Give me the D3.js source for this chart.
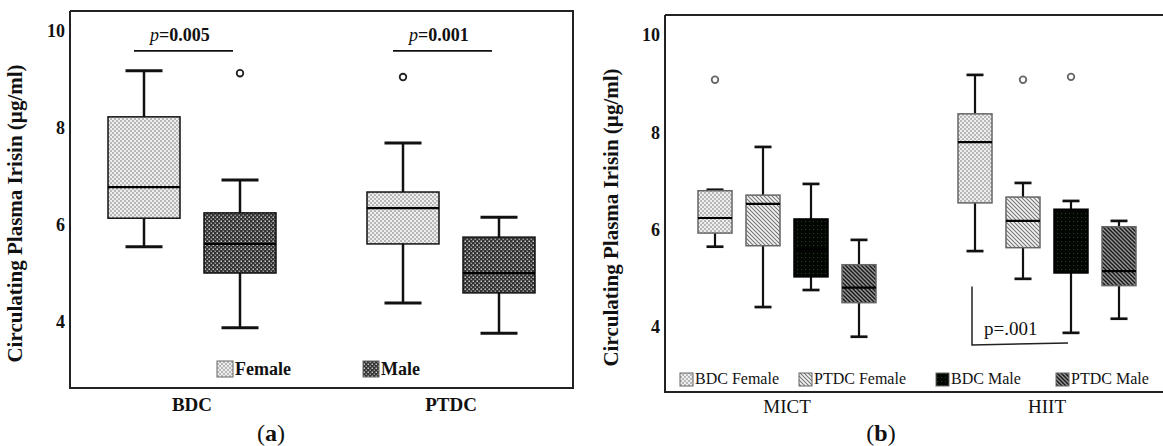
<!DOCTYPE html>
<html lang="en">
<head>
    <meta charset="UTF-8">
    <title>Circulating Plasma Irisin</title>
    <script src="https://d3js.org/d3.v7.min.js"></script>
    <style>
        body { margin: 0; background: #fff; }
        svg text { font-family: "Liberation Serif", "DejaVu Serif", serif; fill: #111; }
    </style>
</head>
<body>
    <svg width="1163" height="446"></svg>
    <script>
        // ---- data ----
        // box stats are [min, q1, median, q3, max] per group
        const groupsA = ["BDC", "PTDC"];
        const seriesA = ["Female", "Male"];
        const femaleA = [[5.55, 6.14, 6.78, 8.23, 9.18], [4.39, 5.61, 6.35, 6.68, 7.69]];
        const maleA   = [[3.88, 5.01, 5.61, 6.25, 6.93], [3.77, 4.60, 5.01, 5.75, 6.16]];
        const outliersA = [
            {group: "BDC", series: "Male", value: 9.13},
            {group: "PTDC", series: "Female", value: 9.05}
        ];
        const pLinesA = [
            {group: "BDC", label: "0.005", value: 9.59},
            {group: "PTDC", label: "0.001", value: 9.59}
        ];

        const groupsB = ["MICT", "HIIT"];
        const seriesB = ["BDC Female", "PTDC Female", "BDC Male", "PTDC Male"];
        const bdcFemaleB  = [[5.65, 5.93, 6.24, 6.80, 6.82], [5.56, 6.55, 7.80, 8.38, 9.18]];
        const ptdcFemaleB = [[4.41, 5.67, 6.53, 6.71, 7.70], [4.99, 5.63, 6.18, 6.67, 6.96]];
        const bdcMaleB    = [[4.76, 5.03, 5.60, 6.22, 6.94], [3.88, 5.11, 5.80, 6.42, 6.59]];
        const ptdcMaleB   = [[3.80, 4.50, 4.81, 5.28, 5.79], [4.17, 4.85, 5.15, 6.06, 6.18]];
        const outliersB = [
            {group: "MICT", series: "BDC Female", value: 9.08},
            {group: "HIIT", series: "PTDC Female", value: 9.08},
            {group: "HIIT", series: "BDC Male", value: 9.14}
        ];
        // bracket: vertical drop then line across to BDC Male
        const bracketB = {group: "HIIT", from: "BDC Female", to: "BDC Male", top: 4.83, bottom: 3.63, label: "p=.001"};

        const yTicks = [4, 6, 8, 10];
        const yTitle = "Circulating Plasma Irisin (\u00b5g/ml)";

        const svg = d3.select("svg");

        // ---- fill patterns ----
        const defs = svg.append("defs");

        const pFem = defs.append("pattern").attr("id", "femDots")
            .attr("width", 4).attr("height", 4).attr("patternUnits", "userSpaceOnUse");
        pFem.append("rect").attr("width", 4).attr("height", 4).attr("fill", "#eeeeee");
        pFem.append("rect").attr("width", 2).attr("height", 2).attr("fill", "#b8b8b8");
        pFem.append("rect").attr("x", 2).attr("y", 2).attr("width", 2).attr("height", 2).attr("fill", "#b8b8b8");

        const pMale = defs.append("pattern").attr("id", "maleCheck")
            .attr("width", 4).attr("height", 4).attr("patternUnits", "userSpaceOnUse");
        pMale.append("rect").attr("width", 4).attr("height", 4).attr("fill", "#333");
        pMale.append("rect").attr("x", 0.5).attr("y", 0.5).attr("width", 1.5).attr("height", 1.5).attr("fill", "#c8c8c8");
        pMale.append("rect").attr("x", 2.5).attr("y", 2.5).attr("width", 1.5).attr("height", 1.5).attr("fill", "#999");

        const pBlack = defs.append("pattern").attr("id", "blackDots")
            .attr("width", 4).attr("height", 4).attr("patternUnits", "userSpaceOnUse");
        pBlack.append("rect").attr("width", 4).attr("height", 4).attr("fill", "#030603");
        pBlack.append("rect").attr("x", 1).attr("y", 1).attr("width", 1).attr("height", 1).attr("fill", "#1c4a1c");

        function hatch(id, bg, fg, w) {
            const p = defs.append("pattern").attr("id", id)
                .attr("width", 4).attr("height", 4).attr("patternUnits", "userSpaceOnUse");
            p.append("rect").attr("width", 4).attr("height", 4).attr("fill", bg);
            p.append("path").attr("d", "M-1,-1 L5,5 M-1,3 L1,5 M3,-1 L5,1")
                .attr("stroke", fg).attr("stroke-width", w);
        }
        hatch("hatchLight", "#f4f4f4", "#777", 1.1);
        hatch("hatchDark", "#9a9a9a", "#1a1a1a", 1.5);

        const fillsA = {"Female": "url(#femDots)", "Male": "url(#maleCheck)"};
        const fillsB = {
            "BDC Female": "url(#femDots)", "PTDC Female": "url(#hatchLight)",
            "BDC Male": "url(#blackDots)", "PTDC Male": "url(#hatchDark)"
        };

        // ---- shared drawing ----
        function drawPanel(cfg) {
            const g = svg.append("g");
            const x = d3.scaleBand().domain(cfg.groups).range(cfg.xRange);
            const off = d3.scalePoint().domain(cfg.series).range(cfg.offRange);
            const y = d3.scaleLinear().domain([10, 4]).range(cfg.yRange);
            const cx = (grp, s) => x(grp) + x.bandwidth() / 2 + off(s);

            // frame
            g.append("path")
                .attr("d", `M${cfg.frame[0]},${cfg.frame[1]} H${cfg.frame[2]} ${cfg.closeRight ? "V" + cfg.frame[3] : "M" + cfg.frame[2] + "," + cfg.frame[3]} H${cfg.frame[0]} V${cfg.frame[1]}`)
                .attr("fill", "none").attr("stroke", "#222").attr("stroke-width", 2);

            // y axis labels
            const ax = g.append("g").attr("transform", `translate(${cfg.frame[0]},0)`)
                .call(d3.axisLeft(y).tickValues(yTicks).tickFormat(d3.format("d"))
                    .tickSize(0).tickPadding(cfg.tickPad));
            ax.attr("font-family", null).attr("font-size", null);
            ax.select(".domain").remove();
            ax.selectAll("text")
                .style("font-size", "18px").style("font-weight", "bold").attr("fill", "#111");

            g.append("text")
                .attr("transform", `translate(${cfg.titleX},${(cfg.frame[1] + cfg.frame[3]) / 2 + 14}) rotate(-90)`)
                .attr("text-anchor", "middle").style("font-size", "21px").style("font-weight", "bold")
                .text(yTitle);

            // group labels
            g.selectAll(".grp").data(cfg.groups).enter().append("text")
                .attr("x", d => x(d) + x.bandwidth() / 2).attr("y", cfg.groupY)
                .attr("text-anchor", "middle").style("font-size", "19px")
                .style("font-weight", cfg.groupBold ? "bold" : "normal")
                .text(d => d);

            // boxes
            const rows = [];
            cfg.series.forEach((s, si) => cfg.stats[si].forEach((st, gi) => {
                rows.push({group: cfg.groups[gi], series: s, st: st});
            }));
            const hw = cfg.boxW / 2, cw = cfg.capW / 2;
            const b = g.selectAll(".box").data(rows).enter().append("g");
            b.append("line")
                .attr("x1", d => cx(d.group, d.series)).attr("x2", d => cx(d.group, d.series))
                .attr("y1", d => y(d.st[0])).attr("y2", d => y(d.st[4]))
                .attr("stroke", "#111").attr("stroke-width", cfg.whiskW);
            b.selectAll(".cap").data(d => [d, d].map((r, i) => ({r: r, v: r.st[i * 4]}))).enter().append("line")
                .attr("x1", d => cx(d.r.group, d.r.series) - cw).attr("x2", d => cx(d.r.group, d.r.series) + cw)
                .attr("y1", d => y(d.v)).attr("y2", d => y(d.v))
                .attr("stroke", "#111").attr("stroke-width", cfg.whiskW + 0.5);
            b.append("rect")
                .attr("x", d => cx(d.group, d.series) - hw).attr("width", cfg.boxW)
                .attr("y", d => y(d.st[3])).attr("height", d => y(d.st[1]) - y(d.st[3]))
                .attr("fill", d => cfg.fills[d.series])
                .attr("stroke", d => cfg.fills[d.series] === "url(#blackDots)" ? "#000" : cfg.boxStroke)
                .attr("stroke-width", 1.5);
            b.append("line")
                .attr("x1", d => cx(d.group, d.series) - hw).attr("x2", d => cx(d.group, d.series) + hw)
                .attr("y1", d => y(d.st[2])).attr("y2", d => y(d.st[2]))
                .attr("stroke", "#000").attr("stroke-width", 2.2);

            // outliers
            g.selectAll(".out").data(cfg.outliers).enter().append("circle")
                .attr("cx", d => cx(d.group, d.series)).attr("cy", d => y(d.value)).attr("r", 3.3)
                .attr("fill", "#fff").attr("stroke", cfg.outStroke).attr("stroke-width", 1.8);

            // legend
            const lg = g.selectAll(".leg").data(cfg.series).enter().append("g")
                .attr("transform", (d, i) => `translate(${cfg.legendX[i]},${cfg.legendY})`);
            lg.append("rect").attr("width", cfg.swatch).attr("height", cfg.swatch)
                .attr("y", -cfg.swatch + 2)
                .attr("fill", d => cfg.fills[d]).attr("stroke", "#666").attr("stroke-width", 1);
            lg.append("text").attr("x", cfg.swatch + 2).attr("y", 0)
                .style("font-size", cfg.legendSize).style("font-weight", cfg.legendBold ? "bold" : "normal")
                .text(d => d);

            return {g, x, y, cx};
        }

        // ---- panel (a) ----
        const A = drawPanel({
            groups: groupsA, series: seriesA, stats: [femaleA, maleA], fills: fillsA,
            outliers: outliersA,
            xRange: [62.5, 580.5], offRange: [-48, 48], yRange: [31, 322],
            frame: [70, 11, 573, 388], closeRight: true, tickPad: 5, titleX: 22,
            groupY: 411, groupBold: true,
            boxW: 72, capW: 37, whiskW: 2.5, boxStroke: "#111", outStroke: "#222",
            legendX: [217, 363], legendY: 375, swatch: 16, legendSize: "18px", legendBold: true
        });

        A.g.selectAll(".pline").data(pLinesA).enter().append("line")
            .attr("x1", d => A.cx(d.group, seriesA[0]) - 10).attr("x2", d => A.cx(d.group, seriesA[1]) - 7)
            .attr("y1", d => A.y(d.value)).attr("y2", d => A.y(d.value))
            .attr("stroke", "#111").attr("stroke-width", 1.8);
        const pt = A.g.selectAll(".ptxt").data(pLinesA).enter().append("text")
            .attr("x", d => (A.cx(d.group, seriesA[0]) + A.cx(d.group, seriesA[1])) / 2 - 12)
            .attr("y", d => A.y(d.value) - 10)
            .attr("text-anchor", "middle").style("font-size", "18px").style("font-weight", "bold");
        pt.append("tspan").style("font-style", "italic").style("font-weight", "normal").text("p");
        pt.append("tspan").text(d => "=" + d.label);

        // ---- panel (b) ----
        const B = drawPanel({
            groups: groupsB, series: seriesB, stats: [bdcFemaleB, ptdcFemaleB, bdcMaleB, ptdcMaleB], fills: fillsB,
            outliers: outliersB,
            xRange: [657, 1177], offRange: [-72, 72], yRange: [35, 327],
            frame: [665, 15, 1175, 392], closeRight: false, tickPad: 5, titleX: 618,
            groupY: 413, groupBold: false,
            boxW: 34, capW: 17, whiskW: 2.2, boxStroke: "#666", outStroke: "#666",
            legendX: [680, 799, 936, 1056], legendY: 384, swatch: 13, legendSize: "16px", legendBold: false
        });

        const bx1 = B.cx(bracketB.group, bracketB.from) - 3;
        const bx2 = B.cx(bracketB.group, bracketB.to) - 3;
        B.g.append("path")
            .attr("d", `M${bx1},${B.y(bracketB.top)} V${B.y(bracketB.bottom)} L${bx2},${B.y(bracketB.bottom) - 2}`)
            .attr("fill", "none").attr("stroke", "#222").attr("stroke-width", 1.5);
        B.g.append("text")
            .attr("x", bx1 + 12).attr("y", B.y(bracketB.bottom) - 10)
            .style("font-size", "19px").text(bracketB.label);

        // ---- captions ----
        const caps = [{t: "a", x: 271}, {t: "b", x: 881}];
        const cp = svg.selectAll(".cap-lbl").data(caps).enter().append("text")
            .attr("x", d => d.x).attr("y", 441).attr("text-anchor", "middle")
            .style("font-size", "24px");
        cp.append("tspan").text("(");
        cp.append("tspan").style("font-weight", "bold").text(d => d.t);
        cp.append("tspan").text(")");
    </script>
</body>
</html>
